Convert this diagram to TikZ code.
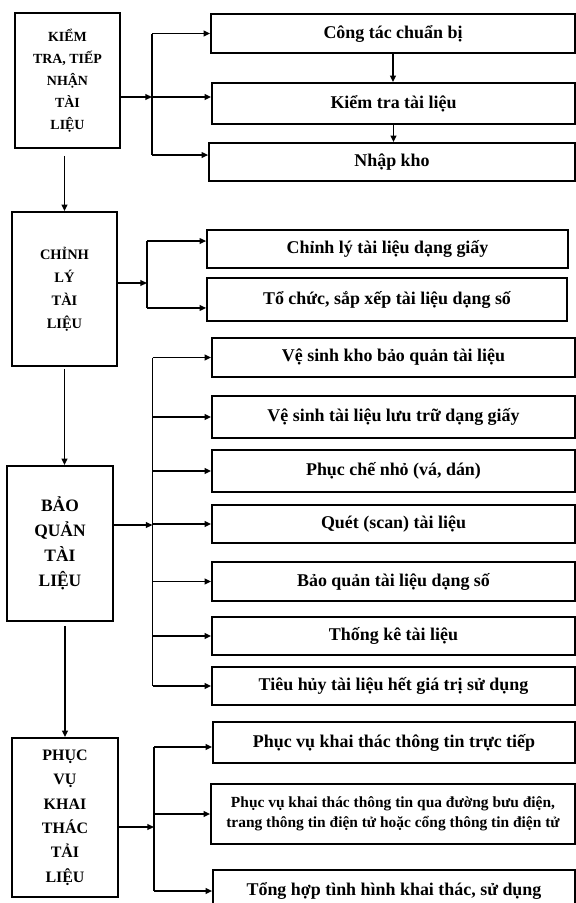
\documentclass[tikz,border=0pt]{standalone}
\usepackage{fontspec}
\setmainfont{Liberation Serif}
\usetikzlibrary{arrows.meta}
\tikzset{
  ph/.style={draw,line width=1.7pt,align=center,inner sep=0pt,font=\bfseries\fontsize{15}{23}\selectfont},
  tk/.style={draw,line width=1.7pt,align=center,inner sep=0pt,font=\bfseries\fontsize{18}{20}\selectfont},
  ln/.style={line width=1.5pt},
  ar/.style={line width=1.5pt,-{Triangle[length=2.3mm,width=2mm]}}
}

\begin{document}
\begin{tikzpicture}[x=1bp,y=-1bp]
\useasboundingbox (0,0) rectangle (576,903); \clip (0,0) rectangle (576,903);
\node[ph,minimum width=105bp,minimum height=135bp,font=\bfseries\fontsize{14}{22}\selectfont] (kt) at (67.5,80.5) {KIỂM\\TRA, TIẾP\\NHẬN\\TÀI\\LIỆU};
\node[ph,minimum width=105bp,minimum height=154bp,font=\bfseries\fontsize{14.5}{23}\selectfont] (cl) at (64.5,289) {CHỈNH\\LÝ\\TÀI\\LIỆU};
\node[ph,minimum width=106bp,minimum height=155bp,font=\bfseries\fontsize{17.5}{25}\selectfont] (bq) at (60,543.5) {BẢO\\QUẢN\\TÀI\\LIỆU};
\node[ph,minimum width=106bp,minimum height=159bp,font=\bfseries\fontsize{16}{24.5}\selectfont] (pv) at (65,817.5) {PHỤC\\VỤ\\KHAI\\THÁC\\TẢI\\LIỆU};
\draw[ar,shorten <=7pt] (cl.north |- kt.south) -- (cl.north);
\draw[ar,shorten <=2pt] (cl.south) -- (cl.south |- bq.north);
\draw[ar,shorten <=4pt] (pv.north |- bq.south) -- (pv.north);

\node[tk,minimum width=364bp,minimum height=39bp] (ct) at (393,33.5) {Công tác chuẩn bị};
\node[tk,minimum width=363bp,minimum height=41bp] (kr) at (393.5,103.5) {Kiểm tra tài liệu};
\node[tk,minimum width=366bp,minimum height=38bp] (nk) at (392,162) {Nhập kho};
\coordinate (b1) at (152,97);
\draw[ar] (kt.east |- b1) -- (b1);
\draw[ln] (b1 |- ct.west) -- ([yshift=7pt]nk.west -| b1);
\draw[ar] (b1 |- ct.west) -- (ct.west); \draw[ar] (b1) -- (b1 -| kr.west); \draw[ar] ([yshift=7pt]nk.west -| b1) -- ([yshift=7pt]nk.west);
\draw[ar] (ct.south) -- (ct.south |- kr.north); \draw[ar] (kr.south) -- (kr.south |- nk.north);

\node[tk,minimum width=361bp,minimum height=38bp] (cg) at (387.5,249) {Chỉnh lý tài liệu dạng giấy};
\node[tk,minimum width=360bp,minimum height=43bp] (tc) at (387,299.5) {Tổ chức, sắp xếp tài liệu dạng số};
\coordinate (b2) at (147,283);
\draw[ar] (cl.east |- b2) -- (b2);
\draw[ln] ([yshift=8pt]cg.west -| b2) -- ([yshift=-8.5pt]tc.west -| b2);
\draw[ar] ([yshift=8pt]cg.west -| b2) -- ([yshift=8pt]cg.west); \draw[ar] ([yshift=-8.5pt]tc.west -| b2) -- ([yshift=-8.5pt]tc.west);

\node[tk,minimum width=363bp,minimum height=39bp] (vk) at (393.5,357.5) {Vệ sinh kho bảo quản tài liệu};
\node[tk,minimum width=363bp,minimum height=42bp] (vs) at (393.5,417) {Vệ sinh tài liệu lưu trữ dạng giấy};
\node[tk,minimum width=363bp,minimum height=42bp] (pc) at (393.5,471) {Phục chế nhỏ (vá, dán)};
\node[tk,minimum width=363bp,minimum height=38bp] (qt) at (393.5,524) {Quét (scan) tài liệu};
\node[tk,minimum width=363bp,minimum height=39bp] (bs) at (393.5,581.5) {Bảo quản tài liệu dạng số};
\node[tk,minimum width=363bp,minimum height=38bp] (tke) at (393.5,636) {Thống kê tài liệu};
\node[tk,minimum width=363bp,minimum height=38bp] (th) at (393.5,686) {Tiêu hủy tài liệu hết giá trị sử dụng};
\coordinate (b3) at (152.5,525);
\draw[ar] (bq.east |- b3) -- (b3);
\draw[ln] (b3 |- vk.west) -- (b3 |- th.west);
\draw[ar] (b3 |- vk.west) -- (vk.west); \draw[ar] (b3 |- vs.west) -- (vs.west); \draw[ar] (b3 |- pc.west) -- (pc.west);
\draw[ar] (b3 |- qt.west) -- (qt.west); \draw[ar] (b3 |- bs.west) -- (bs.west); \draw[ar] (b3 |- tke.west) -- (tke.west);
\draw[ar] (b3 |- th.west) -- (th.west);

\node[tk,minimum width=362bp,minimum height=41bp] (pt) at (394,742.5) {Phục vụ khai thác thông tin trực tiếp};
\node[tk,minimum width=364bp,minimum height=60bp,font=\bfseries\fontsize{15.5}{20}\selectfont] (pq) at (393,814) {Phục vụ khai thác thông tin qua đường bưu điện,\\trang thông tin điện tử hoặc cổng thông tin điện tử};
\node[tk,minimum width=362bp,minimum height=42bp] (tg) at (394,891) {Tổng hợp tình hình khai thác, sử dụng};
\coordinate (b4) at (154,827);
\draw[ar] (pv.east |- b4) -- (b4);
\draw[ln] ([yshift=-4.5pt]pt.west -| b4) -- (b4 |- tg.west);
\draw[ar] ([yshift=-4.5pt]pt.west -| b4) -- ([yshift=-4.5pt]pt.west); \draw[ar] (b4 |- pq.west) -- (pq.west); \draw[ar] (b4 |- tg.west) -- (tg.west);
\end{tikzpicture}
\end{document}
